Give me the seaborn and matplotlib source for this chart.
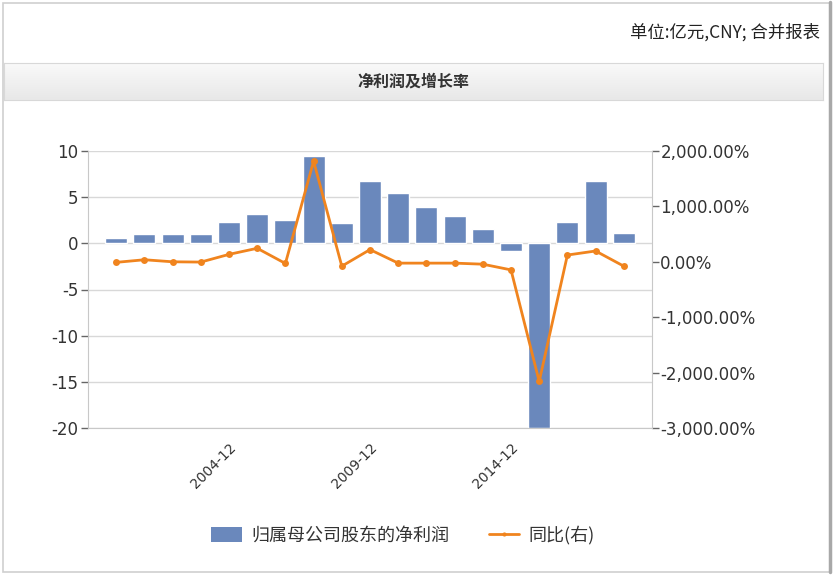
import numpy as np
import matplotlib
matplotlib.use('Agg')
import matplotlib.pyplot as plt
import seaborn as sns
from matplotlib.patches import Rectangle, Patch
from matplotlib.lines import Line2D
from matplotlib.ticker import FuncFormatter

# data
periods = ['2000-12', '2001-12', '2002-12', '2003-12', '2004-12', '2005-12', '2006-12',
           '2007-12', '2008-12', '2009-12', '2010-12', '2011-12', '2012-12', '2013-12',
           '2014-12', '2015-12', '2016-12', '2017-12', '2018-12']
profit = [0.6, 1.0, 1.0, 1.0, 2.3, 3.2, 2.5, 9.5, 2.2, 6.8, 5.4, 3.9, 3.0, 1.6,
          -0.8, -20.0, 2.3, 6.8, 1.1]
yoy = [-10, 37, 0, -5, 134, 244, -30, 1817, -79, 220, -24, -24, -24, -43,
       -146, -2160, 122, 195, -79]
shown_ticks = ['2004-12', '2009-12', '2014-12']

bar_color = '#6a88bc'
line_color = '#f0841e'
cjk = ['Noto Sans CJK SC', 'DejaVu Sans']

sns.set_style('white')
plt.rcParams['font.family'] = ['DejaVu Sans']
plt.rcParams['axes.unicode_minus'] = False

W, H = 835, 575
fig = plt.figure(figsize=(W / 100, H / 100), dpi=100)

# outer frame
fig.patches.append(Rectangle((3 / W, 3 / H), 827 / W, 569 / H, transform=fig.transFigure,
                             fill=False, edgecolor='#cfcfcf', lw=1.2))
fig.lines.append(Line2D([830 / W, 830 / W], [3 / H, 1 - 2 / H], transform=fig.transFigure,
                        color='#a8a8a8', lw=2.5))

# header band with gradient
band = fig.add_axes([4 / W, 1 - 100 / H, 819 / W, 37 / H])
grad = np.linspace(0, 1, 50).reshape(-1, 1)
band.imshow(grad, aspect='auto', cmap=matplotlib.colors.LinearSegmentedColormap.from_list(
    'g', ['#f9f9f9', '#e8e8e8']), extent=[0, 1, 0, 1])
band.set_xticks([])
band.set_yticks([])
for s in band.spines.values():
    s.set_color('#d8d8d8')
band.text(0.5, 0.5, '净利润及增长率', ha='center', va='center', fontsize=11.5,
          fontweight='bold', family=cjk, color='#333333')

fig.text(820 / W, 1 - 32 / H, '单位:亿元,CNY; 合并报表', ha='right', va='center',
         fontsize=12.5, family=cjk, color='#222222')

# main axes
ax = fig.add_axes([88 / W, 1 - 428 / H, 564 / W, 277 / H])
x = np.arange(len(periods))
sns.barplot(x=x, y=profit, ax=ax, color=bar_color, saturation=1, width=0.78)
ax.set_xlim(-1, len(periods))
ax.set_ylim(-20, 10)
ax.set_yticks([10, 5, 0, -5, -10, -15, -20])
ax.yaxis.grid(True, color='#d8d8d8', lw=1)
ax.set_axisbelow(True)
ax.set_xticks([periods.index(p) for p in shown_ticks])
ax.set_xticklabels(shown_ticks, rotation=45, ha='right', rotation_mode='anchor',
                   fontsize=10, color='#333333')
ax.set_xlabel('')
ax.set_ylabel('')
ax.tick_params(axis='y', direction='out', length=5, width=1, color='#666666',
               labelsize=12, labelcolor='#333333', pad=2)
ax.tick_params(axis='x', direction='out', length=5, width=1, color='#666666', pad=4)
for side in ['left', 'bottom']:
    ax.spines[side].set_color('#c8c8c8')
ax.spines['top'].set_visible(False)
ax.spines['right'].set_visible(False)

ax2 = ax.twinx()
sns.lineplot(x=x, y=yoy, ax=ax2, color=line_color, lw=2, marker='o', markersize=5,
             markeredgewidth=0)
ax2.set_ylim(-3000, 2000)
ax2.set_yticks([2000, 1000, 0, -1000, -2000, -3000])
ax2.yaxis.set_major_formatter(FuncFormatter(lambda v, p: f'{v:,.2f}%'))
ax2.tick_params(axis='y', direction='out', length=5, width=1, color='#666666',
                labelsize=12, labelcolor='#333333', pad=1)
ax2.spines['right'].set_color('#c8c8c8')
for side in ['top', 'left', 'bottom']:
    ax2.spines[side].set_visible(False)
ax2.set_ylabel('')

handles = [Patch(facecolor=bar_color, edgecolor='none'),
           Line2D([0], [0], color=line_color, lw=2, marker='o', markersize=2)]
fig.legend(handles, ['归属母公司股东的净利润', '同比(右)'], loc='center',
           bbox_to_anchor=(403 / W, 1 - 535 / H), ncol=2, frameon=False,
           prop={'family': cjk, 'size': 13}, handlelength=1.7, handleheight=0.9,
           columnspacing=2.2, handletextpad=0.5, labelcolor='#333333')

fig.savefig('out.png', dpi=100, facecolor='white')
